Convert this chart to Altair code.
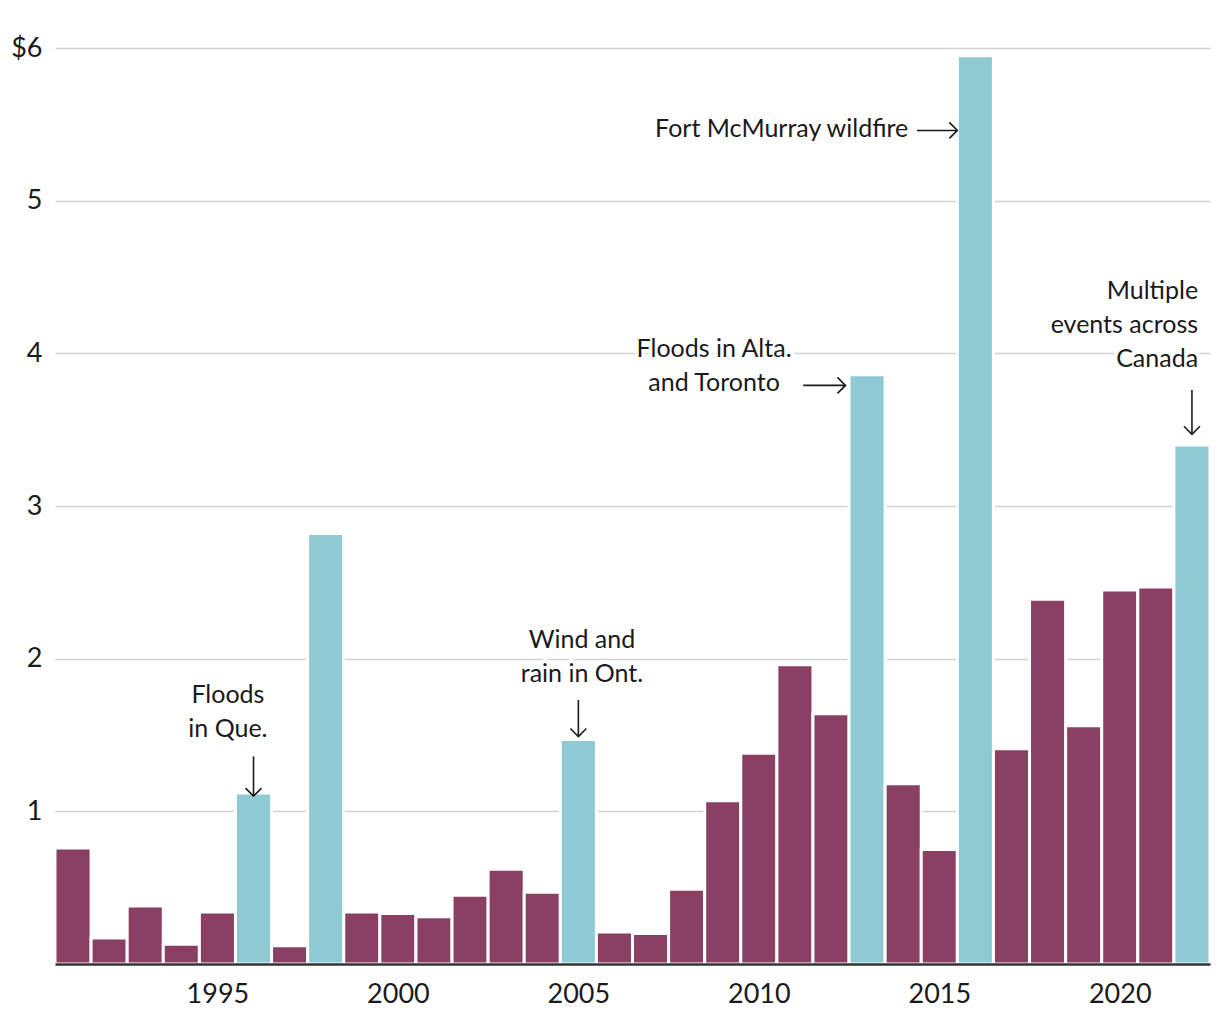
import altair as alt
import pandas as pd

# ---------------- data ----------------
years = list(range(1991, 2023))
losses = [0.76, 0.17, 0.38, 0.13, 0.34, 1.12, 0.12, 2.82, 0.34, 0.33,
          0.31, 0.45, 0.62, 0.47, 1.47, 0.21, 0.20, 0.49, 1.07, 1.38,
          1.96, 1.64, 3.86, 1.18, 0.75, 5.95, 1.41, 2.39, 1.56, 2.45,
          2.47, 3.40]
highlight_years = [1996, 1998, 2005, 2013, 2016, 2022]

x_ticks = [1995, 2000, 2005, 2010, 2015, 2020]
y_ticks = [0, 1, 2, 3, 4, 5, 6]

ann_labels = ["Floods\nin Que.", "Wind and\nrain in Ont.",
              "Floods in Alta.\nand Toronto", "Fort McMurray wildfire",
              "Multiple\nevents across\nCanada"]
ann_text_x = [1995.29, 2005.1, 2008.76, 2014.14, 2022.17]
ann_text_y = [1.76, 2.12, 4.03, 5.47, 4.41]
ann_align = ["center", "center", "center", "right", "right"]
arrow_x1 = [1996, 2005, 2011.23, 2014.38, 2022]
arrow_y1 = [1.36, 1.73, 3.79, 5.46, 3.76]
arrow_x2 = [1996, 2005, 2012.4, 2015.5, 2022]
arrow_y2 = [1.10, 1.49, 3.79, 5.46, 3.47]
arrow_angle = [90, 90, 0, 0, 90]

MAROON = "#8b3f62"
TEAL = "#8fcad4"
INK = "#1a1a1a"
FONT = "Lato"

bars_df = pd.DataFrame({
    "year": years,
    "value": losses,
    "kind": ["event" if y in highlight_years else "base" for y in years],
})
ann_df = pd.DataFrame({
    "label": ann_labels, "tx": ann_text_x, "ty": ann_text_y, "align": ann_align,
    "x1": arrow_x1, "y1": arrow_y1, "x2": arrow_x2, "y2": arrow_y2,
    "angle": arrow_angle,
})

xscale = alt.Scale(domain=[1990.5, 2022.5], nice=False, zero=False)
yscale = alt.Scale(domain=[0, 6], nice=False)

bars = alt.Chart(bars_df).transform_calculate(
    x0="datum.year - 0.5", x1="datum.year + 0.5", zero="0"
).mark_rect(stroke="white", strokeWidth=3).encode(
    x=alt.X("x0:Q", scale=xscale, title=None,
            axis=alt.Axis(values=x_ticks, format="d", ticks=False, grid=False,
                          domain=True, domainColor="#333333", domainWidth=2.5,
                          labelFontSize=27, labelFont=FONT, labelColor=INK,
                          labelPadding=17, zindex=1)),
    x2="x1:Q",
    y=alt.Y("value:Q", scale=yscale, title=None,
            axis=alt.Axis(values=y_ticks, format="d", ticks=False, domain=False,
                          grid=True, gridColor="#d2d2d2", gridWidth=1.5,
                          labelExpr="datum.value == 6 ? '$6' : (datum.value == 0 ? '' : datum.label)",
                          labelFontSize=27, labelFont=FONT, labelColor=INK,
                          labelPadding=13)),
    y2="zero:Q",
    color=alt.Color("kind:N", scale=alt.Scale(domain=["base", "event"],
                                              range=[MAROON, TEAL]), legend=None),
)

def text_layers(align):
    base = alt.Chart(ann_df).transform_filter(alt.datum.align == align)
    enc = dict(x=alt.X("tx:Q", scale=xscale),
               y=alt.Y("ty:Q", scale=yscale),
               text="label:N")
    halo = base.mark_text(align=align, baseline="middle", lineBreak="\n",
                          lineHeight=34, font=FONT, fontSize=25,
                          stroke="white", strokeWidth=8, fill="white").encode(**enc)
    txt = base.mark_text(align=align, baseline="middle", lineBreak="\n",
                         lineHeight=34, font=FONT, fontSize=25,
                         color=INK).encode(**enc)
    return halo, txt

h1, t1 = text_layers("center")
h2, t2 = text_layers("right")

shafts = alt.Chart(ann_df).mark_rule(color=INK, strokeWidth=1.6).encode(
    x=alt.X("x1:Q", scale=xscale),
    y=alt.Y("y1:Q", scale=yscale),
    x2="x2:Q", y2="y2:Q")

heads = alt.Chart(ann_df).mark_point(
    shape="M-1,-1L0,0L-1,1", filled=False, size=256, stroke=INK,
    strokeWidth=1.6, opacity=1).encode(
    x=alt.X("x2:Q", scale=xscale),
    y=alt.Y("y2:Q", scale=yscale),
    angle=alt.Angle("angle:Q", scale=None))

chart = alt.layer(bars, h1, h2, shafts, heads, t1, t2).properties(
    width=1155, height=916,
    padding={"left": 47, "top": 40, "right": 2, "bottom": 48},
    autosize=alt.AutoSizeParams(type="none"),
    background="white",
).configure_view(stroke=None)

chart.save("out.html", embed_options={"renderer": "svg", "actions": False})
